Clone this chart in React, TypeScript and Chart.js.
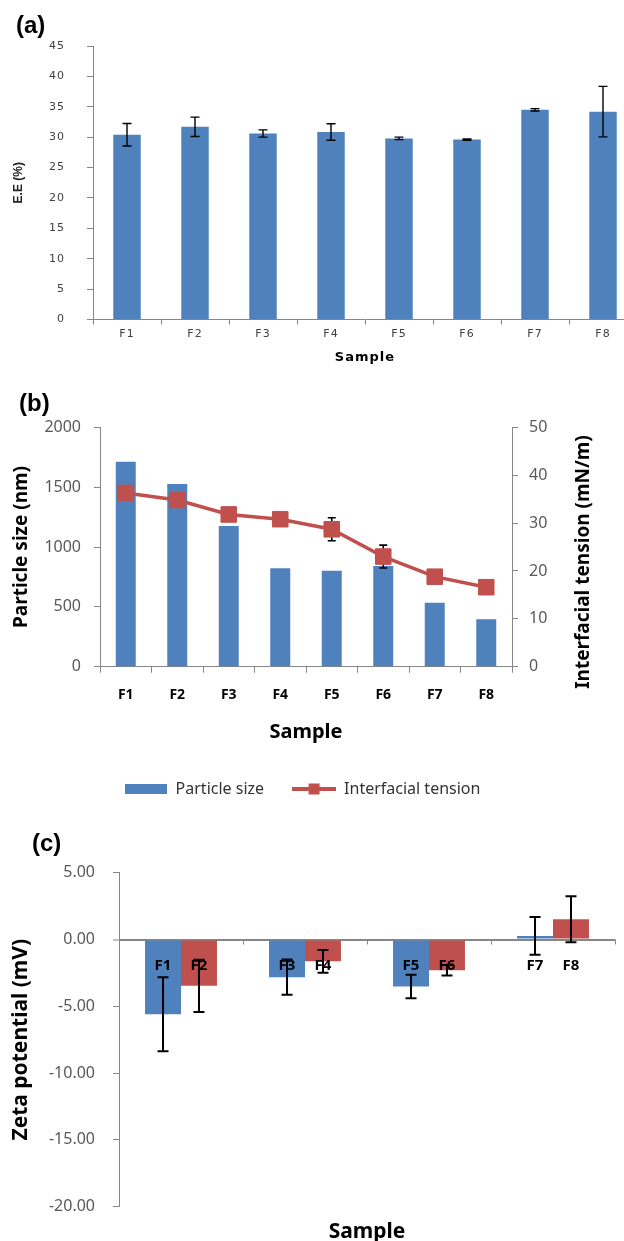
import React, { useEffect, useRef } from 'react';
import { Chart, registerables } from 'chart.js';

Chart.register(...registerables);

// ---------- Data ----------
// (a) Encapsulation efficiency
const eeSamples = ['F1', 'F2', 'F3', 'F4', 'F5', 'F6', 'F7', 'F8'];
const eeValues = [30.4, 31.7, 30.6, 30.85, 29.8, 29.6, 34.5, 34.2];
const eeErrors = [1.85, 1.6, 0.6, 1.35, 0.2, 0.1, 0.2, 4.15];

// (b) Particle size & interfacial tension
const psSamples = ['F1', 'F2', 'F3', 'F4', 'F5', 'F6', 'F7', 'F8'];
const particleSize = [1712, 1526, 1175, 822, 802, 841, 535, 396];
const interfacialTension = [36.3, 34.8, 31.8, 30.8, 28.7, 23.0, 18.8, 16.6];
const tensionErrors = [0.6, 0.5, 0.7, 0.5, 2.4, 2.4, 0.4, 0.3];

// (c) Zeta potential (pairs of samples per group)
const zetaGroups = ['F1/F2', 'F3/F4', 'F5/F6', 'F7/F8'];
const zetaOddLabels = ['F1', 'F3', 'F5', 'F7'];
const zetaOddValues = [-5.59, -2.82, -3.52, 0.27];
const zetaOddErrors = [2.77, 1.32, 0.88, 1.41];
const zetaEvenLabels = ['F2', 'F4', 'F6', 'F8'];
const zetaEvenValues = [-3.47, -1.63, -2.3, 1.52];
const zetaEvenErrors = [1.95, 0.85, 0.4, 1.72];

// ---------- Styles ----------
const BLUE = '#4F81BD';
const RED = '#C0504D';
const AXIS = '#868686';

function drawErrors(chart: any, dsIndex: number, o: { width: number; cap: number; color: string }) {
  const ds = chart.data.datasets[dsIndex];
  const errs = ds.errors as number[] | undefined;
  if (!errs) return;
  const meta = chart.getDatasetMeta(dsIndex);
  const yScale = chart.scales[meta.yAxisID];
  const ctx = chart.ctx;
  ctx.save();
  ctx.strokeStyle = o.color;
  ctx.lineWidth = o.width;
  meta.data.forEach((el: any, i: number) => {
    const v = ds.data[i];
    const e = errs[i];
    const x = el.x;
    const y1 = yScale.getPixelForValue(v + e);
    const y2 = yScale.getPixelForValue(v - e);
    ctx.beginPath();
    ctx.moveTo(x, y1);
    ctx.lineTo(x, y2);
    ctx.moveTo(x - o.cap / 2, y1);
    ctx.lineTo(x + o.cap / 2, y1);
    ctx.moveTo(x - o.cap / 2, y2);
    ctx.lineTo(x + o.cap / 2, y2);
    ctx.stroke();
  });
  ctx.restore();
}

type TextItem = {
  text: string;
  font: string;
  x: number | ((a: any) => number);
  y: number | ((a: any) => number);
  rotation?: number;
  align?: CanvasTextAlign;
  color?: string;
};

function textPlugin(id: string, items: TextItem[]) {
  return {
    id,
    afterDraw(chart: any) {
      const ctx = chart.ctx;
      const a = chart.chartArea;
      for (const t of items) {
        ctx.save();
        (ctx as any).letterSpacing = '0px';
        ctx.font = t.font;
        ctx.fillStyle = t.color || '#000';
        ctx.textAlign = t.align || 'left';
        ctx.textBaseline = 'middle';
        const x = typeof t.x === 'function' ? t.x(a) : t.x;
        const y = typeof t.y === 'function' ? t.y(a) : t.y;
        ctx.translate(x, y);
        if (t.rotation) ctx.rotate(t.rotation);
        ctx.fillText(t.text, 0, 0);
        ctx.restore();
      }
    },
  };
}

export default function App() {
  const refA = useRef<HTMLCanvasElement | null>(null);
  const refB = useRef<HTMLCanvasElement | null>(null);
  const refC = useRef<HTMLCanvasElement | null>(null);

  useEffect(() => {
    const charts: Chart[] = [];

    // ---------- (a) ----------
    const spacingPlugin = {
      id: 'spacingA',
      beforeDraw(chart: any) {
        (chart.ctx as any).letterSpacing = '1px';
      },
    };
    const errA = {
      id: 'errA',
      afterDatasetsDraw(chart: any) {
        drawErrors(chart, 0, { width: 1.4, cap: 9, color: '#000' });
      },
    };
    charts.push(
      new Chart(refA.current as HTMLCanvasElement, {
        type: 'bar',
        data: {
          labels: eeSamples,
          datasets: [
            {
              label: 'E.E (%)',
              data: eeValues,
              errors: eeErrors,
              backgroundColor: BLUE,
              categoryPercentage: 0.8,
              barPercentage: 0.505,
            } as any,
          ],
        },
        options: {
          responsive: false,
          animation: false,
          layout: { padding: { top: 46, right: 3, left: 0, bottom: 0 } },
          plugins: { legend: { display: false }, tooltip: { enabled: false } },
          scales: {
            x: {
              grid: { drawOnChartArea: false, drawTicks: true, tickLength: 5, color: AXIS, offset: true },
              border: { color: AXIS, width: 1 },
              ticks: { font: { family: 'DejaVu Sans', size: 11 }, color: '#404040', padding: 3, maxRotation: 0, autoSkip: false },
              title: {
                display: true,
                text: 'Sample',
                font: { family: 'DejaVu Sans', size: 13, weight: 'bold' },
                color: '#000',
                padding: { top: 0, bottom: 4.5 },
              },
              afterFit: (s: any) => {
                s.height = 50.5;
              },
            },
            y: {
              min: 0,
              max: 45,
              ticks: { stepSize: 5, font: { family: 'DejaVu Sans', size: 11 }, color: '#404040', padding: 22 },
              grid: { drawOnChartArea: false, tickLength: 6, color: AXIS },
              border: { color: AXIS, width: 1 },
              afterFit: (s: any) => {
                s.width = 93;
              },
            },
          },
        } as any,
        plugins: [
          spacingPlugin,
          errA,
          textPlugin('txtA', [
            { text: '(a)', font: 'bold 24px "Liberation Sans"', x: 16, y: 26 },
            {
              text: 'E.E (%)',
              font: 'bold 12px "Liberation Sans Narrow", "Liberation Sans"',
              x: 19,
              y: (a: any) => (a.top + a.bottom) / 2,
              rotation: -Math.PI / 2,
              align: 'center',
              color: '#222',
            },
          ]),
        ],
      })
    );

    // ---------- (b) ----------
    const barImg = document.createElement('canvas');
    barImg.width = 42;
    barImg.height = 10;
    {
      const c = barImg.getContext('2d')!;
      c.fillStyle = BLUE;
      c.fillRect(0, 0, 42, 10);
    }
    const lineImg = document.createElement('canvas');
    lineImg.width = 44;
    lineImg.height = 12;
    {
      const c = lineImg.getContext('2d')!;
      c.fillStyle = RED;
      c.fillRect(0, 4, 44, 4);
      c.fillRect(16.5, 0.5, 11, 11);
    }
    const errB = {
      id: 'errB',
      afterDatasetDraw(chart: any, args: any) {
        if (args.index === 0) drawErrors(chart, 1, { width: 1.6, cap: 8, color: '#000' });
      },
    };
    charts.push(
      new Chart(refB.current as HTMLCanvasElement, {
        type: 'bar',
        data: {
          labels: psSamples,
          datasets: [
            {
              type: 'bar',
              label: 'Particle size',
              data: particleSize,
              backgroundColor: BLUE,
              yAxisID: 'y',
              order: 2,
              categoryPercentage: 0.8,
              barPercentage: 0.485,
            },
            {
              type: 'line',
              label: 'Interfacial tension',
              data: interfacialTension,
              errors: tensionErrors,
              borderColor: RED,
              backgroundColor: RED,
              borderWidth: 3.5,
              pointStyle: 'rect',
              pointRadius: 11,
              pointBackgroundColor: RED,
              pointBorderColor: RED,
              pointBorderWidth: 1,
              yAxisID: 'y1',
              order: 1,
              tension: 0,
            } as any,
          ],
        },
        options: {
          responsive: false,
          animation: false,
          layout: { padding: { top: 57.3, right: 20, left: 0, bottom: 0 } },
          plugins: {
            tooltip: { enabled: false },
            legend: {
              display: true,
              position: 'bottom',
              labels: {
                usePointStyle: true,
                pointStyleWidth: 44,
                padding: 28,
                font: { family: 'Noto Sans', size: 16 },
                color: '#333',
                generateLabels: (chart: any) =>
                  chart.data.datasets.map((ds: any, i: number) => ({
                    text: ds.label,
                    pointStyle: i === 0 ? barImg : lineImg,
                    fillStyle: i === 0 ? BLUE : RED,
                    strokeStyle: i === 0 ? BLUE : RED,
                    fontColor: '#333',
                    lineWidth: 0,
                    hidden: false,
                    datasetIndex: i,
                  })),
              },
            },
          },
          scales: {
            x: {
              grid: { drawOnChartArea: false, tickLength: 6, color: AXIS, offset: true },
              border: { color: AXIS, width: 1 },
              ticks: { font: { family: 'Noto Sans', size: 14, weight: 'bold' }, color: '#000', padding: 14, maxRotation: 0, autoSkip: false },
              title: {
                display: true,
                text: 'Sample',
                font: { family: 'Noto Sans', size: 20, weight: 'bold' },
                color: '#000',
                padding: { top: 0, bottom: 9 },
              },
              afterFit: (s: any) => {
                s.height = 86.3;
              },
            },
            y: {
              position: 'left',
              min: 0,
              max: 2000,
              ticks: {
                stepSize: 500,
                callback: (v: any) => String(v),
                font: { family: 'Noto Sans', size: 16 },
                color: '#595959',
                padding: 13,
              },
              grid: { drawOnChartArea: false, tickLength: 6, color: AXIS },
              border: { color: AXIS, width: 1 },
              title: {
                display: true,
                text: 'Particle size (nm)',
                font: { family: 'Noto Sans', size: 19, weight: 'bold' },
                color: '#000',
                padding: { top: 10, bottom: 0 },
              },
              afterFit: (s: any) => {
                s.width = 100;
              },
            },
            y1: {
              position: 'right',
              min: 0,
              max: 50,
              ticks: {
                stepSize: 10,
                callback: (v: any) => String(v),
                font: { family: 'Noto Sans', size: 16 },
                color: '#595959',
                padding: 11,
              },
              grid: { drawOnChartArea: false, tickLength: 6, color: AXIS },
              border: { color: AXIS, width: 1 },
              afterFit: (s: any) => {
                s.width = 92;
              },
            },
          },
        } as any,
        plugins: [
          errB,
          textPlugin('txtB', [
            { text: '(b)', font: 'bold 24px "Liberation Sans"', x: 19, y: 34 },
            {
              text: 'Interfacial tension (mN/m)',
              font: 'bold 19px "Noto Sans"',
              x: (a: any) => a.right + 72,
              y: (a: any) => (a.top + a.bottom) / 2 + 15,
              rotation: -Math.PI / 2,
              align: 'center',
            },
          ]),
        ],
      })
    );

    // ---------- (c) ----------
    const decoC = {
      id: 'decoC',
      afterDatasetsDraw(chart: any) {
        const ctx = chart.ctx;
        const a = chart.chartArea;
        const y = chart.scales.y;
        const zeroY = y.getPixelForValue(0);
        // tick marks on the zero line at category boundaries
        const n = chart.data.labels.length;
        ctx.save();
        ctx.strokeStyle = AXIS;
        ctx.lineWidth = 1;
        for (let i = 1; i <= n; i++) {
          const x = Math.round(a.left + (i * (a.right - a.left)) / n) + 0.5;
          ctx.beginPath();
          ctx.moveTo(x, zeroY);
          ctx.lineTo(x, zeroY + 5);
          ctx.stroke();
        }
        ctx.restore();
        // sample labels on the bars
        ctx.save();
        ctx.font = 'bold 15px "Noto Sans"';
        ctx.fillStyle = '#000';
        ctx.textAlign = 'center';
        ctx.textBaseline = 'middle';
        chart.data.datasets.forEach((ds: any, di: number) => {
          const meta = chart.getDatasetMeta(di);
          meta.data.forEach((el: any, i: number) => {
            ctx.fillText(ds.sampleLabels[i], el.x, zeroY + 26);
          });
        });
        ctx.restore();
        drawErrors(chart, 0, { width: 2, cap: 11, color: '#000' });
        drawErrors(chart, 1, { width: 2, cap: 11, color: '#000' });
      },
    };
    charts.push(
      new Chart(refC.current as HTMLCanvasElement, {
        type: 'bar',
        data: {
          labels: zetaGroups,
          datasets: [
            {
              label: 'Odd samples',
              data: zetaOddValues,
              errors: zetaOddErrors,
              sampleLabels: zetaOddLabels,
              backgroundColor: BLUE,
              categoryPercentage: 0.58,
              barPercentage: 1,
            } as any,
            {
              label: 'Even samples',
              data: zetaEvenValues,
              errors: zetaEvenErrors,
              sampleLabels: zetaEvenLabels,
              backgroundColor: RED,
              categoryPercentage: 0.58,
              barPercentage: 1,
            } as any,
          ],
        },
        options: {
          responsive: false,
          animation: false,
          layout: { padding: { top: 65.7, right: 9, left: 0, bottom: 0 } },
          plugins: { legend: { display: false }, tooltip: { enabled: false } },
          scales: {
            x: {
              ticks: { display: false },
              grid: { display: false },
              border: { display: false },
              title: {
                display: true,
                text: 'Sample',
                font: { family: 'Noto Sans', size: 21, weight: 'bold' },
                color: '#000',
                padding: { top: 0, bottom: -4 },
              },
              afterFit: (s: any) => {
                s.height = 34.3;
              },
            },
            y: {
              min: -20,
              max: 5,
              ticks: {
                stepSize: 5,
                callback: (v: any) => Number(v).toFixed(2),
                font: { family: 'Noto Sans', size: 16 },
                color: '#595959',
                padding: 18,
              },
              grid: {
                drawOnChartArea: true,
                color: (c: any) => (c.tick && c.tick.value === 0 ? AXIS : 'rgba(0,0,0,0)'),
                lineWidth: (c: any) => (c.tick && c.tick.value === 0 ? 2 : 1),
                tickColor: AXIS,
                tickWidth: 1,
                tickLength: 6,
              },
              border: { color: AXIS, width: 1 },
              title: {
                display: true,
                text: 'Zeta potential (mV)',
                font: { family: 'Noto Sans', size: 21, weight: 'bold' },
                color: '#000',
                padding: { top: 8.4, bottom: 0 },
              },
              afterFit: (s: any) => {
                s.width = 119;
              },
            },
          },
        } as any,
        plugins: [decoC, textPlugin('txtC', [{ text: '(c)', font: 'bold 24px "Liberation Sans"', x: 32, y: 37 }])],
      })
    );

    return () => {
      charts.forEach((c) => c.destroy());
    };
  }, []);

  return (
    <div
      style={{
        position: 'absolute',
        left: 0,
        top: 0,
        width: 624,
        height: 1241,
        overflow: 'hidden',
        background: '#fff',
      }}
    >
      <canvas ref={refA} width={640} height={370} style={{ position: 'absolute', left: 0, top: 0, display: 'block' }} />
      <canvas ref={refB} width={624} height={437} style={{ position: 'absolute', left: 0, top: 370, display: 'block' }} />
      <canvas ref={refC} width={624} height={434} style={{ position: 'absolute', left: 0, top: 807, display: 'block' }} />
    </div>
  );
}
